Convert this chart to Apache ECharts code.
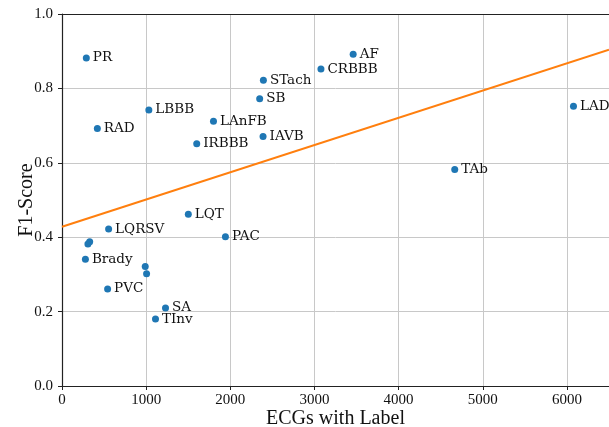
<!DOCTYPE html>
<html>
<head>
<meta charset="utf-8">
<script src="https://cdn.jsdelivr.net/npm/echarts@6/dist/echarts.min.js"></script>
<style>html,body{margin:0;padding:0;background:#fff}#c{width:609px;height:427px}</style>
</head>
<body>
<div id="c"></div>
<script>
const names = ['PR','RAD','LBBB','LAnFB','IRBBB','AF','CRBBB','STach','SB','IAVB','LAD','TAb','LQRSV','LQT','PAC','','','Brady','','','PVC','SA','TInv'];
const ecgCounts = [289,420,1032,1800,1601,3460,3077,2393,2349,2389,6078,4667,554,1501,1942,329,308,278,989,1005,542,1230,1111];
const f1Scores = [0.882,0.692,0.742,0.712,0.651,0.892,0.852,0.822,0.772,0.671,0.752,0.582,0.422,0.462,0.401,0.388,0.382,0.341,0.321,0.302,0.261,0.210,0.180];
const trendX = [0, 6500];
const trendY = [0.428, 0.904];
const xTicks = [0,1000,2000,3000,4000,5000,6000];
const yTicks = [0.0,0.2,0.4,0.6,0.8,1.0];

const FONT = 'Liberation Serif';
const LFONT = 'DejaVu Serif';
const chart = echarts.init(document.getElementById('c'), null, {renderer:'canvas'});
const pts = ecgCounts.map((x,i)=>({value:[x,f1Scores[i]], name:names[i]}));
chart.setOption({
  animation:false,
  grid:{left:62,right:0,top:14,bottom:41,outerBoundsMode:'none',containLabel:false},
  xAxis:[{
    type:'value',min:0,max:6500,interval:1000,
    name:'ECGs with Label',nameLocation:'middle',nameGap:23,nameMoveOverlap:false,
    nameTextStyle:{fontFamily:FONT,fontSize:20,color:'#111'},
    axisLine:{show:true,lineStyle:{color:'#222',width:1.2}},
    axisTick:{show:true,length:4,lineStyle:{color:'#222'}},
    axisLabel:{fontFamily:FONT,fontSize:15,color:'#111',margin:7,showMaxLabel:false,
      formatter:v=>xTicks.includes(v)?String(v):''},
    splitLine:{show:true,lineStyle:{color:'#c8c8c8',width:1}}
  },{
    type:'value',position:'top',min:0,max:6500,
    axisLine:{show:true,lineStyle:{color:'#222',width:1.2}},
    axisTick:{show:false},axisLabel:{show:false},splitLine:{show:false}
  }],
  yAxis:{
    type:'value',min:0,max:1,interval:0.2,
    name:'F1-Score',nameLocation:'middle',nameGap:25,nameMoveOverlap:false,
    nameTextStyle:{fontFamily:FONT,fontSize:20,color:'#111'},
    axisLine:{show:true,lineStyle:{color:'#222',width:1.2}},
    axisTick:{show:true,length:4,lineStyle:{color:'#222'}},
    axisLabel:{fontFamily:FONT,fontSize:15,color:'#111',margin:9,
      formatter:v=>yTicks.includes(Math.round(v*10)/10)?v.toFixed(1):''},
    splitLine:{show:true,lineStyle:{color:'#c8c8c8',width:1}}
  },
  series:[{
    type:'line',
    data:trendX.map((x,i)=>[x,trendY[i]]),
    showSymbol:false,symbol:'none',
    lineStyle:{color:'#ff7f0e',width:2},
    z:2
  },{
    type:'scatter',
    data:pts,
    symbolSize:7,
    itemStyle:{color:'#1f77b4',opacity:1},
    label:{show:true,position:'right',distance:3,formatter:p=>p.name,
      fontFamily:LFONT,fontSize:13.5,color:'#111'},
    z:3
  }]
});
</script>
</body>
</html>
